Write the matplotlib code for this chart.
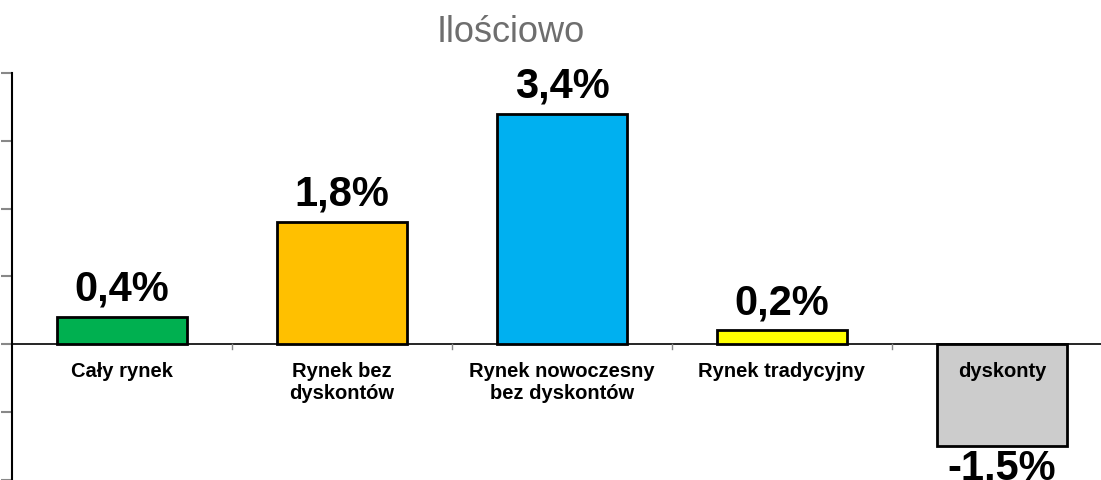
import matplotlib.pyplot as plt

plt.rcParams["font.family"] = ["Liberation Sans", "DejaVu Sans"]

categories = ["Cały rynek", "Rynek bez\ndyskontów", "Rynek nowoczesny\nbez dyskontów",
              "Rynek tradycyjny", "dyskonty"]
values = [0.4, 1.8, 3.4, 0.2, -1.5]
value_labels = ["0,4%", "1,8%", "3,4%", "0,2%", "-1,5%"]
colors = ["#00B050", "#FFC000", "#00B0F0", "#FFFF00", "#CCCCCC"]

fig = plt.figure(figsize=(11.01, 4.81), dpi=100)
ax = fig.add_axes([12 / 1101, 0.5 / 481, 1100 / 1101, 406.5 / 481])

x = list(range(len(categories)))
ax.bar(x, values, width=0.59, color=colors, edgecolor="black", linewidth=2, zorder=3)

ax.set_xlim(-0.5, 4.5)
ax.set_ylim(-2, 4)
ax.axhline(0, color="black", linewidth=1.2, zorder=2)

# value labels above positive bars, below negative ones
for xi, v, lab in zip(x, values, value_labels):
    if v >= 0:
        ax.annotate(lab, (xi, v), xytext=(0, 6), textcoords="offset points",
                    ha="center", va="bottom", fontsize=30, fontweight="bold")
    else:
        ax.annotate(lab, (xi, v), xytext=(0, -1), textcoords="offset points",
                    ha="center", va="top", fontsize=30, fontweight="bold")

# category names sit just under the zero line
for xi, cat in zip(x, categories):
    ax.annotate(cat, (xi, 0), xytext=(0, -12), textcoords="offset points",
                ha="center", va="top", fontsize=14.5, fontweight="bold",
                linespacing=1.25, zorder=4)

# small separators between categories on the zero line
for b in [0.5, 1.5, 2.5, 3.5]:
    ax.plot([b, b], [0, -0.07], color="#888888", linewidth=1, zorder=2)

ax.set_xticks([])
ax.set_yticks([-2, -1, 0, 1, 2, 3, 4])
ax.set_yticklabels([])
ax.tick_params(axis="y", length=8, color="#888888", width=1.5)
for s in ["top", "right", "bottom"]:
    ax.spines[s].set_visible(False)
ax.spines["left"].set_linewidth(1.5)

fig.text(511 / 1101, 1 - 32 / 481, "Ilościowo", ha="center", va="center",
         fontsize=26, color="#6E6E6E")

fig.savefig("out.png", dpi=100)
